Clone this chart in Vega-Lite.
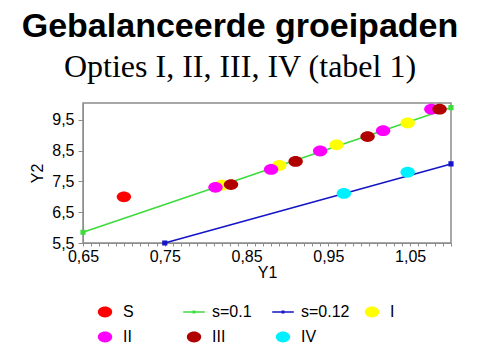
{
  "$schema": "https://vega.github.io/schema/vega-lite/v6.json",
  "width": 368,
  "height": 140,
  "autosize": {"type": "none"},
  "padding": {"left": 83, "top": 103, "right": 29, "bottom": 117},
  "background": "white",
  "title": {
    "text": "Gebalanceerde groeipaden",
    "subtitle": "Opties I, II, III, IV (tabel 1)",
    "anchor": "middle",
    "dx": -27,
    "offset": 19,
    "font": "Liberation Sans",
    "fontSize": 34,
    "fontWeight": "bold",
    "color": "black",
    "subtitleFont": "Liberation Serif",
    "subtitleFontSize": 32,
    "subtitleColor": "black",
    "subtitlePadding": 8
  },
  "config": {
    "view": {"stroke": "#8c8c8c", "strokeWidth": 1.5},
    "axis": {
      "labelFont": "Liberation Sans",
      "titleFont": "Liberation Sans",
      "labelColor": "black",
      "titleColor": "black",
      "titleFontWeight": "normal",
      "grid": false,
      "domainColor": "#8c8c8c",
      "tickColor": "#8c8c8c"
    },
    "legend": {
      "labelFont": "Liberation Sans",
      "labelFontSize": 16,
      "labelColor": "black"
    }
  },
  "datasets": {
    "points": [
      {"Y1": 0.70, "Y2": 7.0, "series": "S"},
      {"Y1": 0.82, "Y2": 7.38, "series": "I"},
      {"Y1": 0.89, "Y2": 8.02, "series": "I"},
      {"Y1": 0.96, "Y2": 8.69, "series": "I"},
      {"Y1": 1.047, "Y2": 9.40, "series": "I"},
      {"Y1": 0.812, "Y2": 7.31, "series": "II"},
      {"Y1": 0.88, "Y2": 7.89, "series": "II"},
      {"Y1": 0.94, "Y2": 8.49, "series": "II"},
      {"Y1": 1.017, "Y2": 9.15, "series": "II"},
      {"Y1": 1.076, "Y2": 9.85, "series": "II"},
      {"Y1": 0.831, "Y2": 7.40, "series": "III"},
      {"Y1": 0.91, "Y2": 8.15, "series": "III"},
      {"Y1": 0.998, "Y2": 8.96, "series": "III"},
      {"Y1": 1.086, "Y2": 9.85, "series": "III"},
      {"Y1": 0.969, "Y2": 7.11, "series": "IV"},
      {"Y1": 1.047, "Y2": 7.80, "series": "IV"}
    ],
    "lines": [
      {"Y1": 0.65, "Y2": 5.85, "series": "s=0.1"},
      {"Y1": 1.10, "Y2": 9.9, "series": "s=0.1"},
      {"Y1": 0.75, "Y2": 5.5, "series": "s=0.12"},
      {"Y1": 1.10, "Y2": 8.07, "series": "s=0.12"}
    ]
  },
  "encoding": {
    "x": {
      "field": "Y1",
      "type": "quantitative",
      "title": "Y1",
      "scale": {"domain": [0.65, 1.10], "nice": false, "zero": false},
      "axis": {
        "values": [0.65,0.66,0.67,0.68,0.69,0.70,0.71,0.72,0.73,0.74,0.75,0.76,0.77,0.78,0.79,0.80,0.81,0.82,0.83,0.84,0.85,0.86,0.87,0.88,0.89,0.90,0.91,0.92,0.93,0.94,0.95,0.96,0.97,0.98,0.99,1.00,1.01,1.02,1.03,1.04,1.05,1.06,1.07,1.08,1.09,1.10],
        "labelExpr": "round(datum.value*100) % 10 == 5 ? replace(format(datum.value, '.2f'), '.', ',') : ''",
        "labelOverlap": false,
        "labelFlush": false,
        "labelFontSize": 16,
        "labelPadding": 2,
        "tickSize": 3,
        "titleFontSize": 16,
        "titlePadding": 0
      }
    },
    "y": {
      "field": "Y2",
      "type": "quantitative",
      "title": "Y2",
      "scale": {"domain": [5.5, 10.05], "nice": false, "zero": false},
      "axis": {
        "values": [5.5, 6.5, 7.5, 8.5, 9.5],
        "labelExpr": "replace(format(datum.value, '.1f'), '.', ',')",
        "labelFontSize": 16,
        "labelPadding": 4,
        "tickSize": 5,
        "titleFontSize": 16,
        "titlePadding": 6
      }
    }
  },
  "layer": [
    {
      "data": {"name": "lines"},
      "mark": {"type": "line", "strokeWidth": 1.6, "point": {"filled": true, "shape": "square", "size": 10, "opacity": 1}},
      "encoding": {
        "stroke": {
          "field": "series",
          "type": "nominal",
          "scale": {"domain": ["s=0.1", "s=0.12"], "range": ["#3cdc3c", "#1414c8"]},
          "legend": null
        },
        "fill": {
          "field": "series",
          "type": "nominal",
          "scale": {"domain": ["s=0.1", "s=0.12"], "range": ["#3cdc3c", "#1414c8"]},
          "legend": null
        },
        "detail": {"field": "series"}
      }
    },
    {
      "data": {"name": "points"},
      "mark": {"type": "point", "filled": true, "opacity": 1, "size": 576, "strokeWidth": 0},
      "encoding": {
        "color": {
          "field": "series",
          "type": "nominal",
          "scale": {
            "domain": ["S", "s=0.1", "s=0.12", "I", "II", "III", "IV"],
            "range": ["#ff0000", "#3cdc3c", "#1414c8", "#ffff00", "#ff00ff", "#b00000", "#00f0ff"]
          },
          "legend": {
            "title": null,
            "orient": "none",
            "legendX": 10,
            "legendY": 197,
            "columns": 4,
            "direction": "horizontal",
            "gridAlign": "all",
            "columnPadding": 10,
            "rowPadding": 5,
            "symbolSize": 576,
            "labelOffset": 6,
            "symbolStrokeWidth": 0
          }
        },
        "shape": {
          "field": "series",
          "type": "nominal",
          "scale": {
            "domain": ["S", "s=0.1", "s=0.12", "I", "II", "III", "IV"],
            "range": [
              "M-0.6,0A0.6,0.45 0 1,0 0.6,0A0.6,0.45 0 1,0 -0.6,0Z",
              "M-0.9,-0.07L0.9,-0.07L0.9,0.07L-0.9,0.07Z M-0.12,-0.12L0.12,-0.12L0.12,0.12L-0.12,0.12Z",
              "M-0.9,-0.07L0.9,-0.07L0.9,0.07L-0.9,0.07Z M-0.12,-0.12L0.12,-0.12L0.12,0.12L-0.12,0.12Z",
              "M-0.6,0A0.6,0.45 0 1,0 0.6,0A0.6,0.45 0 1,0 -0.6,0Z",
              "M-0.6,0A0.6,0.45 0 1,0 0.6,0A0.6,0.45 0 1,0 -0.6,0Z",
              "M-0.6,0A0.6,0.45 0 1,0 0.6,0A0.6,0.45 0 1,0 -0.6,0Z",
              "M-0.6,0A0.6,0.45 0 1,0 0.6,0A0.6,0.45 0 1,0 -0.6,0Z"
            ]
          },
          "legend": {
            "title": null,
            "orient": "none",
            "legendX": 10,
            "legendY": 197,
            "columns": 4,
            "direction": "horizontal",
            "gridAlign": "all",
            "columnPadding": 10,
            "rowPadding": 5,
            "symbolSize": 576,
            "labelOffset": 6,
            "symbolStrokeWidth": 0
          }
        }
      }
    }
  ]
}
